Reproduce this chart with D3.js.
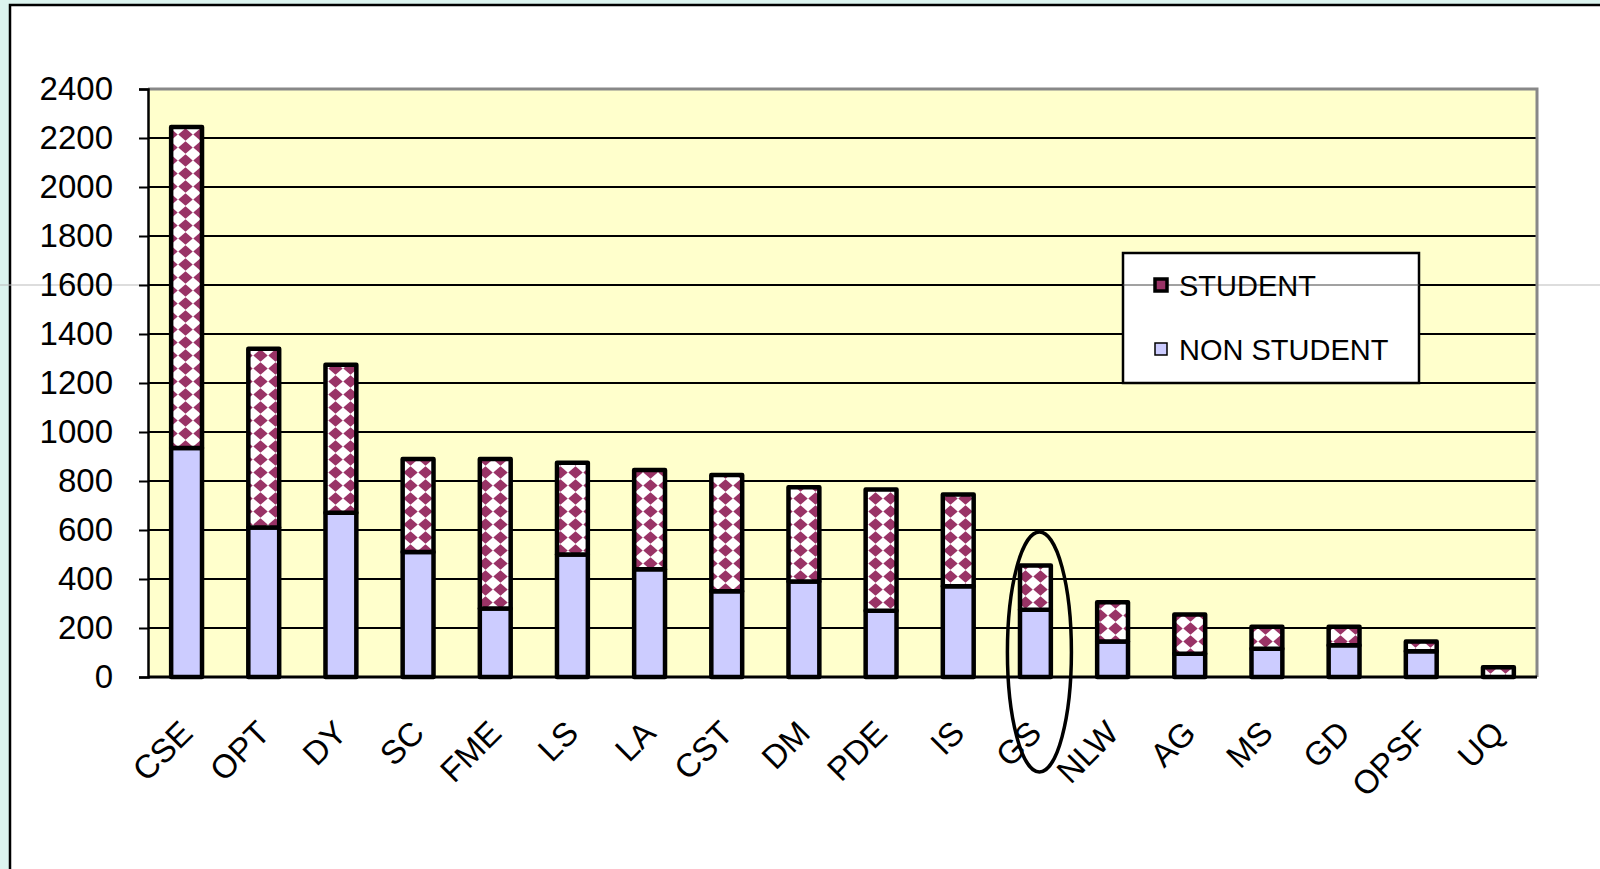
<!DOCTYPE html>
<html>
<head>
<meta charset="utf-8">
<script src="https://cdn.jsdelivr.net/npm/d3@7"></script>
<style>
  html, body { margin: 0; padding: 0; background: #dcf4ef; }
  svg { display: block; font-family: "Liberation Sans", Arial, sans-serif; }
</style>
</head>
<body>
<div id="chart"></div>
<script>
// values
const categories = ['CSE', 'OPT', 'DY', 'SC', 'FME', 'LS', 'LA', 'CST', 'DM', 'PDE', 'IS', 'GS', 'NLW', 'AG', 'MS', 'GD', 'OPSF', 'UQ'];
const nonStudent = [935, 610, 670, 510, 280, 500, 440, 350, 390, 270, 370, 275, 145, 95, 115, 130, 105, 0];
const student = [1310, 730, 605, 380, 610, 375, 405, 475, 385, 495, 375, 180, 160, 160, 90, 75, 40, 40];
const yTicks = [0, 200, 400, 600, 800, 1000, 1200, 1400, 1600, 1800, 2000, 2200, 2400];
const seriesNames = ['NON STUDENT', 'STUDENT'];

const totalWidth = 1600
const totalHeight = 869

const leftMargin = 148
const topMargin = 89
const plotWidth = 1537 - leftMargin
const plotHeight = 677 - topMargin

const svg = d3.select('#chart')
    .append('svg')
    .attr('width', totalWidth)
    .attr('height', totalHeight);

// diamond pattern for the student part
const defs = svg.append('defs');
const pat = defs.append('pattern')
    .attr('id', 'diamonds')
    .attr('patternUnits', 'userSpaceOnUse')
    .attr('width', 15)
    .attr('height', 13);
pat.append('rect').attr('width', 15).attr('height', 13).attr('fill', '#ffffff');
pat.append('path').attr('d', 'M7.5,0.3 L14.7,6.5 L7.5,12.7 L0.3,6.5 Z').attr('fill', '#993366');

// white page with black frame
svg.append('rect')
    .attr('x', 10).attr('y', 5)
    .attr('width', totalWidth + 20).attr('height', totalHeight + 20)
    .attr('fill', '#ffffff')
    .attr('stroke', '#000')
    .attr('stroke-width', 2.5);

const xScale = d3.scaleBand()
    .domain(categories)
    .range([0, plotWidth])
    .paddingInner(0.6)
    .paddingOuter(0.3);

const yScale = d3.scaleLinear()
    .domain([0, 2400])
    .range([plotHeight, 0]);

// faint guide line across the slide
svg.append('line')
    .attr('x1', 0).attr('x2', totalWidth)
    .attr('y1', topMargin + yScale(1600)).attr('y2', topMargin + yScale(1600))
    .attr('stroke', '#bbbbbb')
    .attr('stroke-width', 1);

const g = svg.append('g')
    .attr('transform', `translate(${leftMargin},${topMargin})`);

g.append('rect')
    .attr('width', plotWidth)
    .attr('height', plotHeight)
    .attr('fill', '#ffffcc');

// gridlines
g.selectAll('.grid')
    .data(yTicks.filter(t => t > 0 && t < 2400))
    .enter()
    .append('line')
    .attr('x1', 0).attr('x2', plotWidth)
    .attr('y1', d => yScale(d)).attr('y2', d => yScale(d))
    .attr('stroke', '#000')
    .attr('stroke-width', 2);

// gray top and right border of plot
g.append('path')
    .attr('d', `M0,${yScale(2400)} H${plotWidth} V${plotHeight}`)
    .attr('fill', 'none')
    .attr('stroke', '#888888')
    .attr('stroke-width', 3);

// stacked bars
const rows = categories.map((c, i) => ({ cat: c, ns: nonStudent[i], st: student[i] }));
const stacked = d3.stack().keys(['ns', 'st'])(rows);
const fills = ['#ccccff', 'url(#diamonds)'];

stacked.forEach((layer, li) => {
    g.selectAll('.bar' + li)
        .data(layer.filter(d => d[1] > d[0]))
        .enter()
        .append('rect')
        .attr('x', d => xScale(d.data.cat))
        .attr('y', d => yScale(d[1]))
        .attr('width', xScale.bandwidth())
        .attr('height', d => yScale(d[0]) - yScale(d[1]))
        .attr('fill', fills[li])
        .attr('stroke', '#000')
        .attr('stroke-width', 4.5)
        .attr('stroke-linejoin', 'round');
});

// left axis
const yAxis = g.append('g')
    .call(d3.axisLeft(yScale).tickValues(yTicks).tickSize(9).tickPadding(26).tickFormat(d3.format('d')));
yAxis.select('.domain').attr('stroke', '#000').attr('stroke-width', 2.5);
yAxis.selectAll('.tick line').attr('stroke', '#000').attr('stroke-width', 2);
yAxis.selectAll('.tick text')
    .attr('fill', '#000')
    .style('font-size', '33px')
    .style('font-family', '"Liberation Sans", Arial, sans-serif');

// bottom axis line
g.append('line')
    .attr('x1', 0).attr('x2', plotWidth)
    .attr('y1', plotHeight).attr('y2', plotHeight)
    .attr('stroke', '#000')
    .attr('stroke-width', 3);

// category labels, rotated
g.selectAll('.xlabel')
    .data(categories)
    .enter()
    .append('text')
    .attr('transform', d => `translate(${xScale(d) + xScale.bandwidth() / 2 + 8},${plotHeight + 58}) rotate(-45)`)
    .attr('text-anchor', 'end')
    .style('font-size', '33px')
    .attr('fill', '#000')
    .text(d => d);

// legend
const legend = svg.append('g').attr('transform', 'translate(1123,253)');
legend.append('rect')
    .attr('width', 296).attr('height', 130)
    .attr('fill', '#ffffff')
    .attr('stroke', '#000')
    .attr('stroke-width', 2.5);
legend.append('line')
    .attr('x1', 0).attr('x2', 296)
    .attr('y1', topMargin + yScale(1600) - 253).attr('y2', topMargin + yScale(1600) - 253)
    .attr('stroke', '#444')
    .attr('stroke-width', 1);

const legendItems = [
    { name: seriesNames[1], fill: '#993366', y: 32, sw: 3.5 },
    { name: seriesNames[0], fill: '#ccccff', y: 96, sw: 1.5 }
];
legendItems.forEach(it => {
    legend.append('rect')
        .attr('x', 32).attr('y', it.y - 6)
        .attr('width', 12).attr('height', 12)
        .attr('fill', it.fill)
        .attr('stroke', '#000')
        .attr('stroke-width', it.sw);
    legend.append('text')
        .attr('x', 56).attr('y', it.y + 11)
        .style('font-size', '29px')
        .attr('fill', '#000')
        .text(it.name);
});

// hand-drawn ellipse around GS
g.append('ellipse')
    .attr('cx', xScale('GS') + xScale.bandwidth() / 2 + 4)
    .attr('cy', yScale(0) - 25)
    .attr('rx', 32)
    .attr('ry', 120)
    .attr('fill', 'none')
    .attr('stroke', '#000')
    .attr('stroke-width', 3.5);
</script>
</body>
</html>
